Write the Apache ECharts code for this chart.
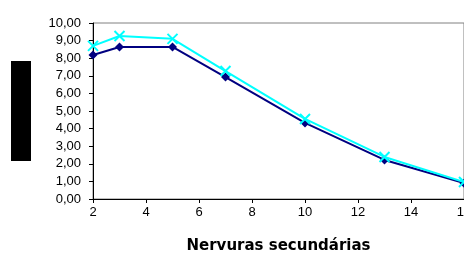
<!DOCTYPE html>
<html><head><meta charset="utf-8">
<script src="https://cdn.jsdelivr.net/npm/echarts@6/dist/echarts.min.js"></script>
<style>html,body{margin:0;padding:0;background:#fff}#c{width:464px;height:253px}</style>
</head><body><div id="c"></div>
<script>
const xValues = [2, 3, 5, 7, 10, 13, 16];
const seriesDark = [8.18, 8.64, 8.64, 6.93, 4.32, 2.22, 0.90];
const seriesCyan = [8.70, 9.26, 9.10, 7.27, 4.55, 2.39, 0.97];
const xAxisTitle = 'Nervuras secundárias';

const chart = echarts.init(document.getElementById('c'), null, {renderer: 'canvas'});
const pair = arr => xValues.map((x, i) => [x, arr[i]]);
chart.setOption({
  animation: false,
  grid: {left: 93, right: 0, top: 23, bottom: 54, show: true, borderColor: '#808080', borderWidth: 1,
         backgroundColor: 'transparent', containLabel: false, outerBoundsMode: 'none'},
  xAxis: {
    type: 'value', min: 2, max: 16, interval: 2,
    name: xAxisTitle, nameLocation: 'middle', nameGap: 40,
    nameTextStyle: {fontFamily: 'DejaVu Sans', fontWeight: 'bold', fontSize: 15, color: '#000'},
    axisLine: {show: true, lineStyle: {color: '#000', width: 1}},
    axisTick: {show: true, inside: false, length: 4, lineStyle: {color: '#000'}},
    axisLabel: {margin: 7, fontFamily: 'Liberation Sans', fontSize: 13, color: '#000'},
    splitLine: {show: false}
  },
  yAxis: {
    type: 'value', min: 0, max: 10, interval: 1,
    axisLine: {show: true, lineStyle: {color: '#000', width: 1}},
    axisTick: {show: true, inside: false, length: 4, lineStyle: {color: '#000'}},
    axisLabel: {margin: 12, fontFamily: 'Liberation Sans', fontSize: 13, color: '#000',
      formatter: v => v.toFixed(2).replace('.', ',')},
    splitLine: {show: false}
  },
  graphic: [{type: 'rect', shape: {x: 11, y: 61, width: 20, height: 100}, style: {fill: '#000'}}],
  series: [
    {type: 'line', data: pair(seriesDark), z: 2,
     lineStyle: {color: '#000080', width: 2}, itemStyle: {color: '#000080'},
     symbol: 'diamond', symbolSize: 9},
    {type: 'line', data: pair(seriesCyan), z: 3,
     lineStyle: {color: '#00FFFF', width: 2},
     itemStyle: {color: 'none', borderColor: '#00FFFF', borderWidth: 2},
     symbol: 'path://M0,0L10,10M10,0L0,10', symbolSize: 10}
  ]
});
</script></body></html>
